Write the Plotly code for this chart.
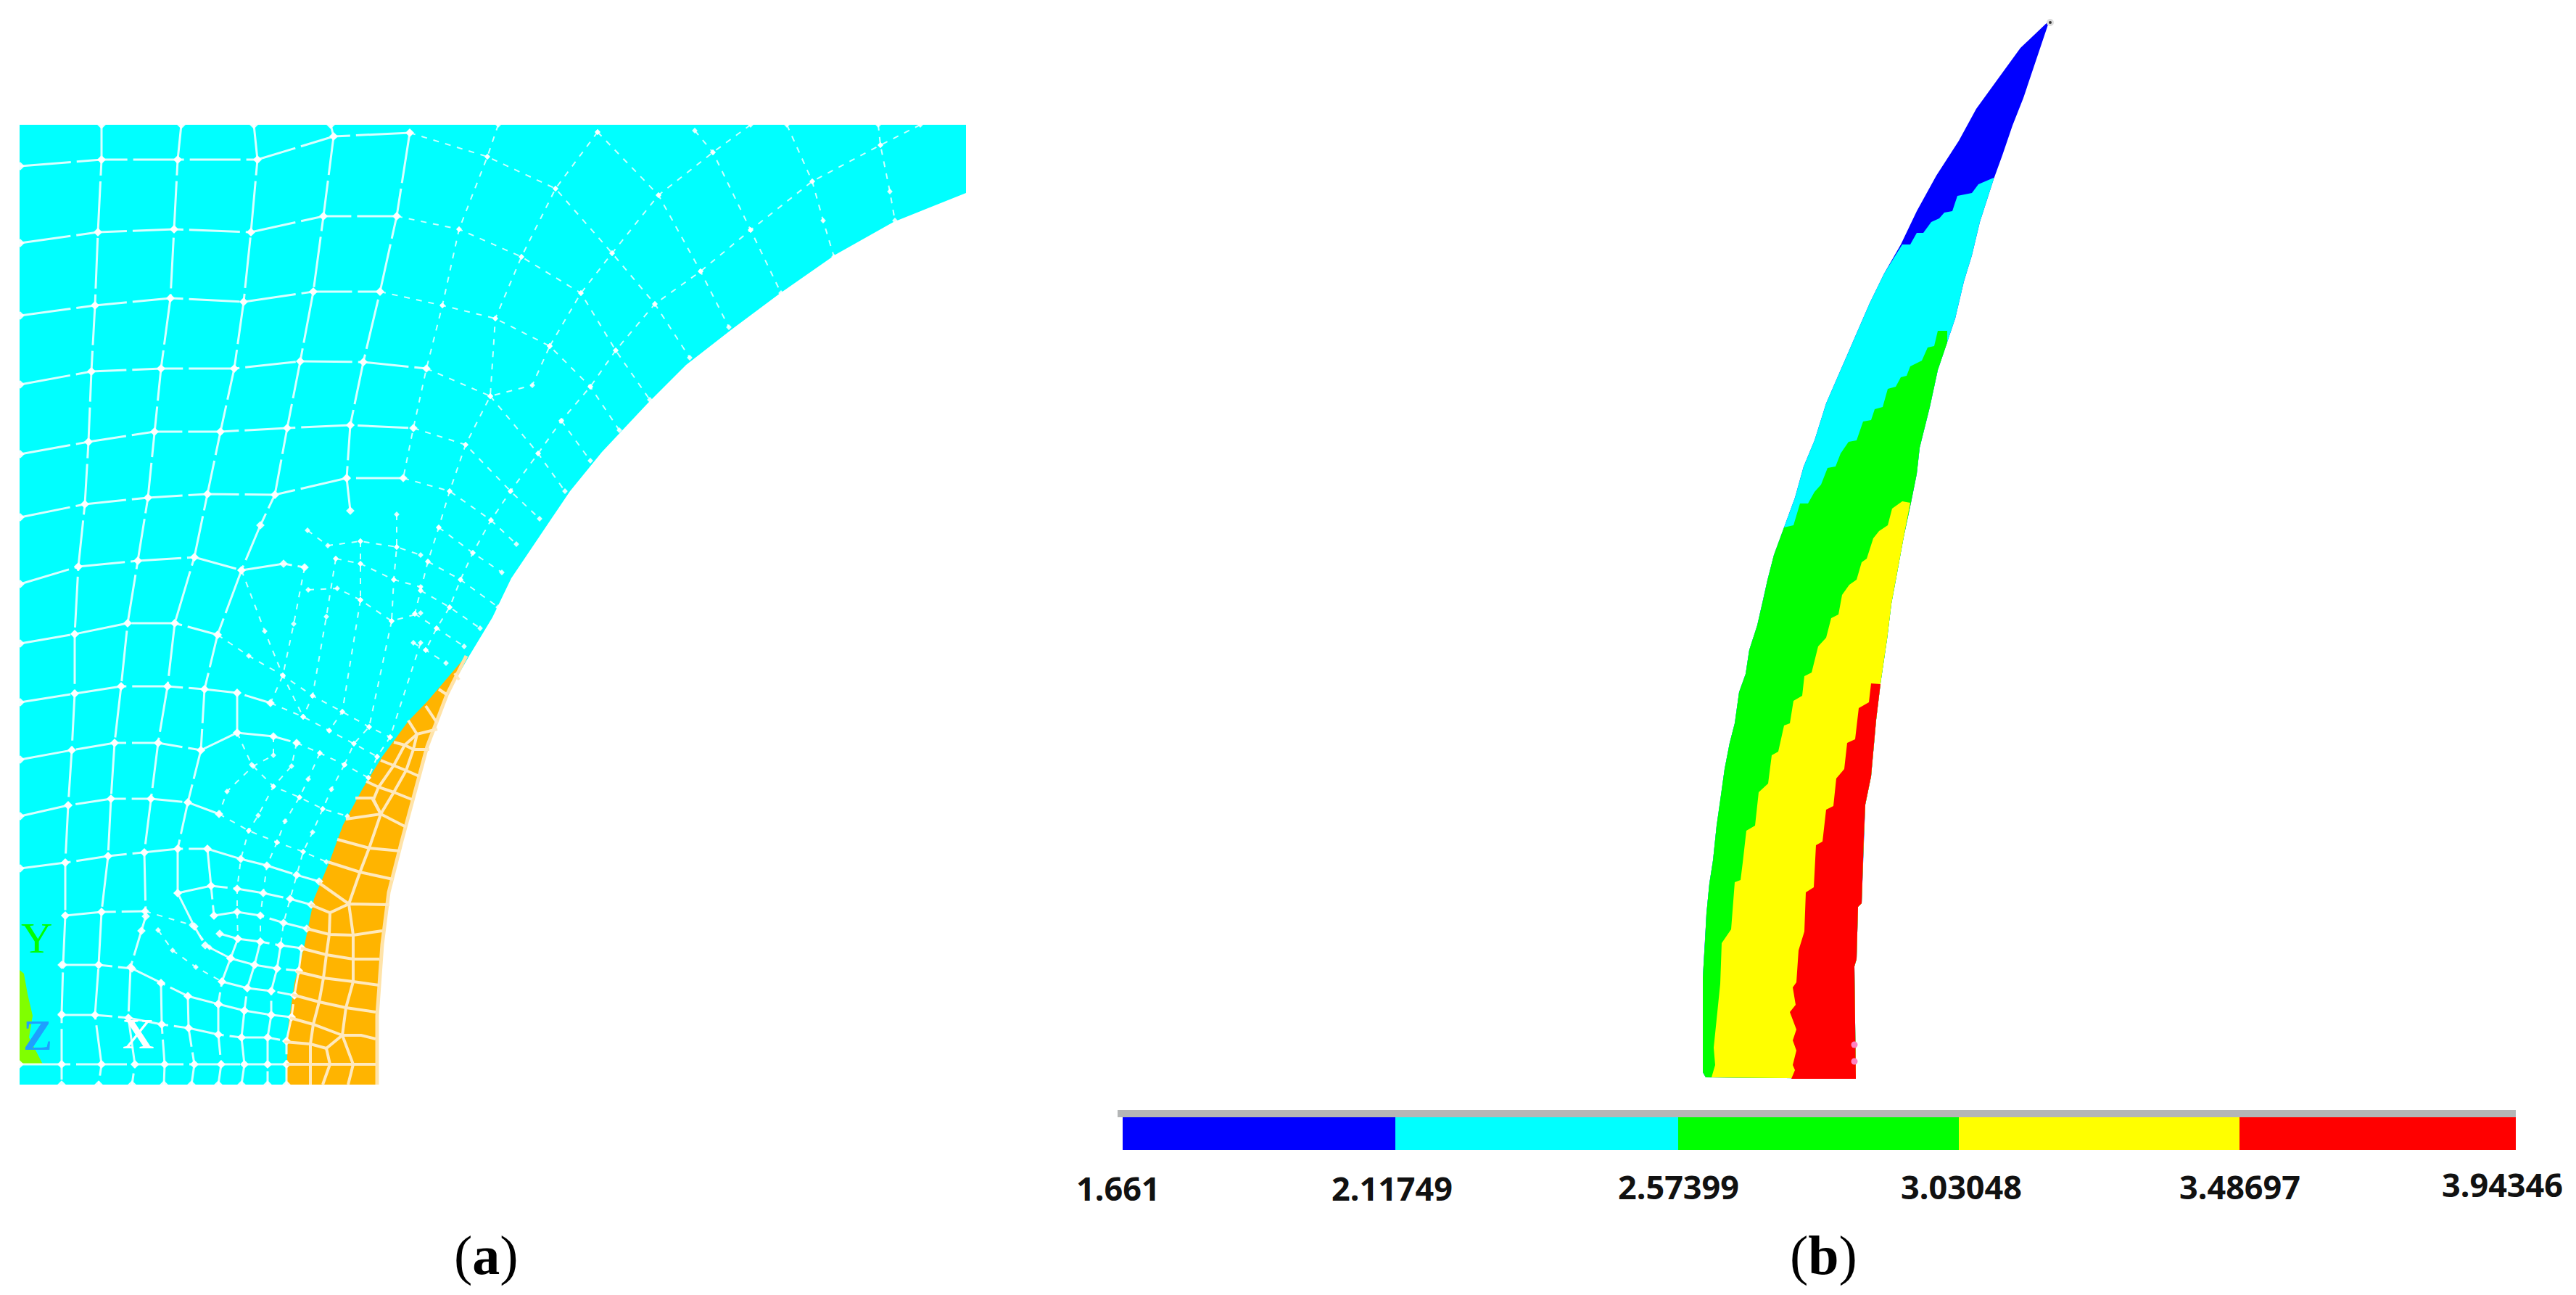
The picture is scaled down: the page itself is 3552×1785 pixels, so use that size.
import plotly.graph_objects as go

# panel (b), outline of the blade, tip to root (image pixel units)
left_x = [2826, 2786, 2754, 2725, 2701, 2670, 2643, 2621, 2598, 2578, 2558, 2536, 2518, 2502, 2487, 2475, 2460, 2446, 2437, 2432,
          2423, 2412, 2407, 2398, 2392, 2385, 2378, 2372, 2367, 2362, 2357, 2353, 2351, 2348, 2348, 2352]
left_y = [28, 66, 110, 150, 194, 242, 291, 337, 377, 418, 464, 515, 556, 607, 643, 686, 727, 765, 800, 823,
          862, 896, 929, 954, 997, 1024, 1060, 1104, 1138, 1186, 1218, 1259, 1298, 1347, 1478, 1485]
right_x = [2826, 2815, 2804, 2790, 2775, 2761, 2749, 2730, 2719, 2708, 2696, 2685, 2672, 2661, 2647, 2643, 2635, 2625, 2614, 2608,
           2602, 2593, 2587, 2580, 2572, 2570, 2567, 2562, 2560, 2557, 2559]
right_y = [28, 61, 94, 135, 173, 214, 247, 306, 352, 388, 439, 472, 510, 561, 617, 653, 693, 740, 800, 832,
           881, 942, 992, 1070, 1109, 1153, 1245, 1250, 1322, 1332, 1487]

# stepped borders between the colour bands, left to right
blue_cyan_x = [2623, 2634, 2643, 2652, 2663, 2674, 2681, 2692, 2699, 2719, 2728, 2749]
blue_cyan_y = [337, 337, 321, 321, 306, 301, 293, 291, 270, 266, 254, 245]
cyan_green_x = [2460, 2473, 2482, 2493, 2502, 2511, 2520, 2531, 2538, 2549, 2560, 2569, 2580, 2585, 2596, 2603, 2614, 2621, 2629, 2634,
                2650, 2658, 2667, 2672, 2685]
cyan_green_y = [727, 724, 694, 694, 678, 668, 645, 643, 625, 609, 607, 581, 579, 564, 561, 536, 533, 520, 518, 505,
                497, 479, 477, 456, 456]
green_yellow_x = [2360, 2365, 2363, 2367, 2372, 2374, 2387, 2392, 2400, 2403, 2408, 2420, 2425, 2438, 2443, 2452, 2460, 2468, 2473, 2485,
                  2488, 2498, 2507, 2518, 2525, 2535, 2540, 2550, 2560, 2567, 2574, 2583, 2591, 2603, 2609, 2623, 2634]
green_yellow_y = [1485, 1468, 1444, 1405, 1356, 1300, 1281, 1216, 1213, 1189, 1145, 1138, 1092, 1080, 1041, 1036, 1000, 997, 966, 959,
                  932, 927, 891, 879, 852, 847, 820, 806, 799, 775, 770, 742, 732, 724, 701, 691, 693]
yellow_red_x = [2470, 2475, 2472, 2477, 2472, 2477, 2468, 2476, 2472, 2477, 2480, 2488, 2490, 2501, 2504, 2513, 2518, 2528, 2532, 2543,
                2547, 2558, 2563, 2577, 2580, 2593]
yellow_red_y = [1487, 1475, 1468, 1448, 1434, 1419, 1395, 1385, 1361, 1354, 1310, 1284, 1230, 1223, 1165, 1160, 1116, 1111, 1073, 1060,
                1024, 1019, 976, 968, 942, 943]

# colour legend of panel (b)
legend_edges = [1548, 1924, 2314, 2701, 3088, 3469]
legend_colors = ['#0000ff', '#00ffff', '#00ff00', '#ffff00', '#ff0000']
legend_labels = ['1.661', '2.11749', '2.57399', '3.03048', '3.48697', '3.94346']
legend_label_x = [1542, 1919, 2314, 2704, 3088, 3450]
legend_label_y = [1637, 1637, 1635, 1635, 1635, 1632]

# panel (a), region outlines
cyan_x = [27, 1332, 1332, 1232, 1152, 1076, 1009, 946, 893, 830, 786, 741, 705, 679, 647, 616, 589, 571, 554, 536, 527, 520, 520, 27]
cyan_y = [172, 172, 266, 306, 351, 404, 454, 503, 556, 623, 677, 744, 797, 851, 904, 958, 1029, 1096, 1159, 1230, 1302, 1400, 1495, 1495]
orange_x = [643, 589, 563, 527, 500, 473, 455, 433, 420, 406, 397, 395, 520, 520, 527, 536, 554, 571, 589, 616]
orange_y = [904, 967, 994, 1043, 1087, 1137, 1186, 1239, 1302, 1355, 1418, 1495, 1495, 1400, 1302, 1230, 1159, 1096, 1029, 958]
orange_rim_x = [520, 520, 527, 536, 554, 571, 589, 616, 643]
orange_rim_y = [1495, 1400, 1302, 1230, 1159, 1096, 1029, 958, 904]
wedge_x = [27, 33, 38, 45, 40, 59, 27]
wedge_y = [1337, 1342, 1370, 1400, 1430, 1467, 1467]

# mesh of panel (a): coarse part on the left, solid looking lines
mesh_coarse = [
    [(28, 229), (140, 220), (245, 220), (355, 220), (460, 188), (565, 183)],
    [(28, 335), (135, 320), (240, 316), (346, 320), (446, 298), (547, 298)],
    [(28, 435), (131, 421), (235, 411), (336, 416), (432, 402), (524, 402)],
    [(28, 530), (126, 512), (222, 508), (323, 508), (414, 498), (501, 499), (588, 508)],
    [(28, 626), (122, 609), (213, 595), (304, 595), (396, 590), (483, 586), (570, 590)],
    [(28, 713), (117, 695), (204, 686), (286, 681), (379, 682), (478, 659), (556, 659)],
    [(28, 805), (108, 781), (190, 773), (268, 768), (333, 786), (391, 777), (420, 782)],
    [(28, 887), (103, 874), (176, 859), (241, 859), (300, 875)],
    [(28, 968), (103, 956), (167, 946), (231, 946), (282, 950), (327, 955), (373, 969)],
    [(28, 1047), (99, 1034), (158, 1024), (218, 1024), (277, 1034), (327, 1010), (377, 1015), (409, 1024)],
    [(28, 1125), (94, 1110), (153, 1101), (208, 1101), (259, 1106), (302, 1122)],
    [(28, 1197), (90, 1189), (149, 1180), (199, 1175), (245, 1170), (286, 1170), (332, 1184), (368, 1193), (409, 1206), (440, 1215)],
    [(90, 1262), (140, 1257), (200, 1256)],
    [(245, 1231), (291, 1221), (327, 1225), (363, 1231), (400, 1239), (429, 1247)],
    [(295, 1262), (327, 1257), (359, 1262), (391, 1272), (423, 1280)],
    [(303, 1287), (328, 1294), (359, 1298), (387, 1303), (416, 1307)],
    [(318, 1321), (351, 1330), (382, 1335), (412, 1338)],
    [(306, 1353), (341, 1362), (374, 1366), (406, 1372)],
    [(301, 1384), (337, 1393), (374, 1399), (402, 1402)],
    [(85, 1330), (136, 1330), (182, 1335), (222, 1355), (259, 1373), (301, 1384)],
    [(85, 1399), (131, 1399), (177, 1403), (223, 1412), (260, 1417), (301, 1426), (333, 1430), (369, 1430), (395, 1435)],
    [(27, 1467), (85, 1467), (140, 1467), (186, 1467), (227, 1467), (268, 1467), (305, 1467), (337, 1467), (369, 1467), (395, 1467)],
    [(140, 172), (140, 220), (135, 320), (131, 421), (126, 512), (122, 609), (117, 695), (108, 781), (103, 874), (103, 956), (99, 1034),
     (94, 1110), (90, 1189), (90, 1262), (87, 1330), (85, 1398), (85, 1467), (85, 1495)],
    [(250, 172), (245, 220), (240, 316), (235, 411), (222, 508), (213, 595), (204, 686), (190, 773), (176, 859), (167, 946), (158, 1024),
     (153, 1101), (149, 1180), (140, 1257), (136, 1330), (131, 1399), (140, 1467), (136, 1495)],
    [(350, 172), (355, 220), (346, 320), (336, 416), (323, 508), (304, 595), (286, 681), (268, 768), (241, 859), (231, 946), (218, 1024),
     (208, 1101), (199, 1175), (201, 1263), (195, 1283), (180, 1333), (177, 1403), (186, 1467), (182, 1495)],
    [(456, 172), (460, 188), (446, 298), (432, 402), (414, 498), (396, 590), (379, 682), (359, 724), (333, 786), (300, 875), (282, 950),
     (277, 1034), (259, 1106), (245, 1170), (245, 1231), (268, 1277), (283, 1303), (318, 1321)],
    [(565, 183), (547, 298), (524, 402), (501, 499), (483, 586), (478, 659), (483, 704)],
    [(327, 955), (327, 1010)],
    [(286, 1170), (291, 1221), (295, 1262)],
    [(222, 1355), (223, 1412), (227, 1467), (226, 1495)],
    [(259, 1373), (260, 1417), (268, 1467), (264, 1495)],
    [(301, 1384), (301, 1426), (305, 1467), (301, 1495)],
    [(337, 1393), (333, 1430), (337, 1467), (333, 1495)],
    [(374, 1399), (369, 1430), (369, 1467), (369, 1495)],
    [(359, 1298), (351, 1330), (341, 1362), (337, 1393)],
    [(387, 1303), (382, 1335), (374, 1366), (374, 1399)],
    [(416, 1307), (412, 1338), (406, 1372), (402, 1402), (395, 1435), (395, 1467), (395, 1495)],
    [(328, 1294), (318, 1321), (306, 1353), (301, 1384)],
]

# finer, dotted looking part near the arc
mesh_fine = [
    [(565, 183), (672, 216), (766, 260), (844, 349), (903, 419), (951, 493)],
    [(547, 298), (633, 316), (719, 354), (801, 404), (849, 483), (896, 551)],
    [(524, 402), (610, 421), (683, 439), (758, 477), (814, 533), (854, 593)],
    [(588, 508), (676, 546), (734, 531), (758, 477)],
    [(570, 590), (642, 613), (704, 677), (744, 715)],
    [(556, 659), (620, 677), (677, 717), (712, 750)],
    [(774, 580), (814, 635)],
    [(676, 546), (742, 625), (779, 677)],
    [(605, 727), (652, 762), (692, 789)],
    [(590, 774), (635, 799), (687, 837)],
    [(580, 814), (620, 837), (662, 866)],
    [(572, 846), (602, 866), (640, 891)],
    [(570, 886), (587, 896), (615, 914)],
    [(687, 172), (672, 216), (633, 316), (610, 421), (588, 508), (570, 590), (556, 659)],
    [(824, 182), (766, 260), (719, 354), (683, 439), (676, 546), (642, 613), (620, 677), (605, 727), (590, 774), (580, 814), (572, 846)],
    [(1035, 172), (983, 210), (908, 269), (844, 349), (801, 404), (758, 477)],
    [(1269, 172), (1214, 200), (1120, 250), (1035, 317), (966, 374), (903, 419), (849, 483), (814, 533), (774, 580), (742, 625), (704, 677),
     (677, 717), (652, 762), (635, 799), (620, 837), (602, 866), (587, 896)],
    [(1211, 172), (1214, 200), (1227, 264), (1234, 304)],
    [(1085, 172), (1120, 250), (1135, 304), (1150, 354)],
    [(958, 180), (983, 210), (1035, 317), (1077, 404)],
    [(824, 182), (908, 269), (966, 374), (1005, 451)],
    [(424, 731), (452, 752), (497, 746), (547, 754), (580, 765)],
    [(463, 770), (497, 777), (543, 799), (580, 809)],
    [(425, 813), (465, 811), (497, 827), (540, 856), (580, 845)],
    [(497, 746), (497, 777), (497, 827)],
    [(547, 709), (547, 754), (543, 799), (540, 856)],
    [(300, 875), (343, 904), (390, 931), (431, 959), (472, 981), (509, 1002), (538, 1016)],
    [(373, 969), (418, 988), (454, 1007), (488, 1025), (520, 1043)],
    [(409, 1024), (441, 1038), (475, 1054), (508, 1072)],
    [(302, 1122), (343, 1145), (382, 1161), (418, 1174), (450, 1188)],
    [(327, 1010), (347, 1054), (377, 1084), (413, 1099), (445, 1115), (479, 1125)],
    [(377, 1015), (377, 1041), (349, 1056), (313, 1091), (302, 1122)],
    [(409, 1024), (402, 1056), (377, 1084), (356, 1124), (343, 1145), (332, 1184), (327, 1225), (327, 1257), (328, 1294)],
    [(441, 1038), (425, 1074), (413, 1099), (393, 1132), (382, 1161), (368, 1193), (363, 1231), (359, 1262), (359, 1298)],
    [(475, 1054), (457, 1088), (445, 1115), (431, 1147), (418, 1174), (409, 1206), (400, 1239), (391, 1272), (387, 1303)],
    [(333, 786), (365, 870), (390, 931), (418, 988)],
    [(420, 782), (405, 860), (390, 931), (373, 969)],
    [(463, 770), (450, 850), (431, 959), (418, 988)],
    [(497, 827), (472, 981), (454, 1007)],
    [(540, 856), (509, 1002), (488, 1025), (475, 1054)],
    [(580, 886), (538, 1016), (520, 1043), (508, 1072)],
    [(200, 1256), (264, 1275), (289, 1306), (318, 1321)],
    [(218, 1282), (238, 1310), (270, 1333), (306, 1353)],
]

orange_mesh = [
    [(395, 1467), (428, 1467), (455, 1467), (487, 1467), (518, 1467)],
    [(392, 1436), (428, 1439), (450, 1445), (472, 1427), (498, 1427), (518, 1432)],
    [(400, 1403), (432, 1412), (472, 1427)],
    [(403, 1371), (440, 1381), (477, 1389), (518, 1395)],
    [(408, 1339), (446, 1348), (487, 1353), (523, 1358)],
    [(415, 1307), (450, 1316), (487, 1322), (523, 1322)],
    [(423, 1280), (454, 1288), (487, 1289), (527, 1283)],
    [(428, 1247), (455, 1258), (481, 1246), (537, 1247)],
    [(440, 1217), (481, 1246)],
    [(452, 1188), (496, 1202), (542, 1212)],
    [(465, 1157), (509, 1169), (552, 1173)],
    [(477, 1129), (525, 1122), (560, 1140)],
    [(490, 1100), (513, 1100), (525, 1122)],
    [(543, 1092), (568, 1102)],
    [(505, 1077), (522, 1085), (543, 1092)],
    [(525, 1048), (543, 1055), (560, 1062), (578, 1070)],
    [(543, 1023), (558, 1027), (570, 1033), (592, 1033)],
    [(563, 993), (575, 1012), (603, 1005)],
    [(587, 973), (603, 997)],
    [(605, 950), (617, 958)],
    [(627, 928), (633, 937)],
    [(481, 1246), (496, 1203), (509, 1169), (525, 1122), (543, 1092), (560, 1062), (570, 1033), (575, 1012)],
    [(481, 1246), (487, 1289), (487, 1322), (487, 1353), (477, 1389), (472, 1427), (487, 1467), (480, 1495)],
    [(455, 1258), (454, 1288), (450, 1316), (446, 1348), (440, 1381), (432, 1412), (428, 1439), (428, 1467), (428, 1495)],
    [(450, 1445), (455, 1467), (445, 1495)],
    [(525, 1122), (515, 1102), (522, 1085), (543, 1055), (558, 1027), (575, 1012)],
]

triad_labels = ['Y', '<b>Z</b>', '<b>X</b>']
triad_x = [50, 52, 190]
triad_y = [1293, 1427, 1425]
triad_colors = ['#00ff00', '#1e9fff', '#ffffff']

captions = ['(<b>a</b>)', '(<b>b</b>)']
caption_x = [670, 2514]
caption_y = [1730, 1730]


def flatten(lines):
    xs, ys = [], []
    for line in lines:
        xs += [p[0] for p in line] + [None]
        ys += [p[1] for p in line] + [None]
    return xs, ys


def band(bx, by):
    # close a border down the right edge, along the root and back up the left edge
    rx = [x for x, y in zip(right_x, right_y) if y > by[-1]]
    ry = [y for y in right_y if y > by[-1]]
    lx = [x for x, y in zip(left_x, left_y) if y > by[0]]
    ly = [y for y in left_y if y > by[0]]
    return bx + rx + lx[::-1], by + ry + ly[::-1]


def patch(xs, ys, color):
    return go.Scatter(x=xs, y=ys, mode='lines', fill='toself', fillcolor=color,
                      line=dict(width=0, color=color), hoverinfo='skip')


fig = go.Figure()

# panel (a)
fig.add_trace(patch(cyan_x, cyan_y, '#00ffff'))
fig.add_trace(patch(orange_x, orange_y, '#ffb400'))
fig.add_trace(go.Scatter(x=orange_rim_x, y=orange_rim_y, mode='lines', line=dict(color='#ffe3a8', width=5)))
fig.add_trace(patch(wedge_x, wedge_y, '#80ff00'))

xs, ys = flatten(mesh_coarse)
fig.add_trace(go.Scatter(x=xs, y=ys, mode='lines+markers',
                         line=dict(color='rgba(255,255,255,0.85)', width=3, dash='70px,8px'),
                         marker=dict(color='rgba(255,255,255,0.9)', size=9, symbol='diamond')))
xs, ys = flatten(mesh_fine)
fig.add_trace(go.Scatter(x=xs, y=ys, mode='lines+markers',
                         line=dict(color='rgba(255,255,255,0.8)', width=2, dash='8px,9px'),
                         marker=dict(color='rgba(255,255,255,0.85)', size=6, symbol='diamond')))
xs, ys = flatten(orange_mesh)
fig.add_trace(go.Scatter(x=xs, y=ys, mode='lines', line=dict(color='#ffe9bd', width=4)))

for i in range(3):
    fig.add_annotation(x=triad_x[i], y=triad_y[i], text=triad_labels[i], showarrow=False,
                       font=dict(family='Liberation Serif', size=60, color=triad_colors[i]))

# panel (b)
fig.add_trace(patch(left_x + right_x[::-1], left_y + right_y[::-1], '#0000ff'))
fig.add_trace(patch(*band(blue_cyan_x, blue_cyan_y), '#00ffff'))
fig.add_trace(patch(*band(cyan_green_x, cyan_green_y), '#00ff00'))
fig.add_trace(patch(*band(green_yellow_x, green_yellow_y), '#ffff00'))
fig.add_trace(patch(*band(yellow_red_x, yellow_red_y), '#ff0000'))
fig.add_trace(go.Scatter(x=[2827], y=[31], mode='markers',
                         marker=dict(size=7, color='#333333', line=dict(width=3, color='#dddddd'))))
fig.add_trace(go.Scatter(x=[2557, 2557], y=[1440, 1463], mode='markers',
                         marker=dict(size=9, color='#ff80c0')))

# legend bar
fig.add_trace(go.Bar(x=[legend_edges[-1] - 1541], y=[1535], base=[1541], width=[10], orientation='h',
                     marker=dict(color='#b4b6b6', line=dict(width=0))))
for i in range(5):
    fig.add_trace(go.Bar(x=[legend_edges[i + 1] - legend_edges[i]], y=[1562.5], base=[legend_edges[i]], width=[45],
                         orientation='h', marker=dict(color=legend_colors[i], line=dict(width=0))))
for i in range(6):
    fig.add_annotation(x=legend_label_x[i], y=legend_label_y[i], text='<b>' + legend_labels[i] + '</b>', showarrow=False,
                       font=dict(family='Noto Sans', size=45, color='#111111'))

for i in range(2):
    fig.add_annotation(x=caption_x[i], y=caption_y[i], text=captions[i], showarrow=False,
                       font=dict(family='Liberation Serif', size=76, color='black'))

# the page keeps a small body margin, so the ranges start at that offset
fig.update_layout(width=3552, height=1785, margin=dict(l=0, r=0, t=0, b=0),
                  paper_bgcolor='white', plot_bgcolor='white', showlegend=False, barmode='overlay',
                  xaxis=dict(range=[8, 3560], visible=False, fixedrange=True),
                  yaxis=dict(range=[1793, 8], visible=False, fixedrange=True))

fig.write_html("out.html")
